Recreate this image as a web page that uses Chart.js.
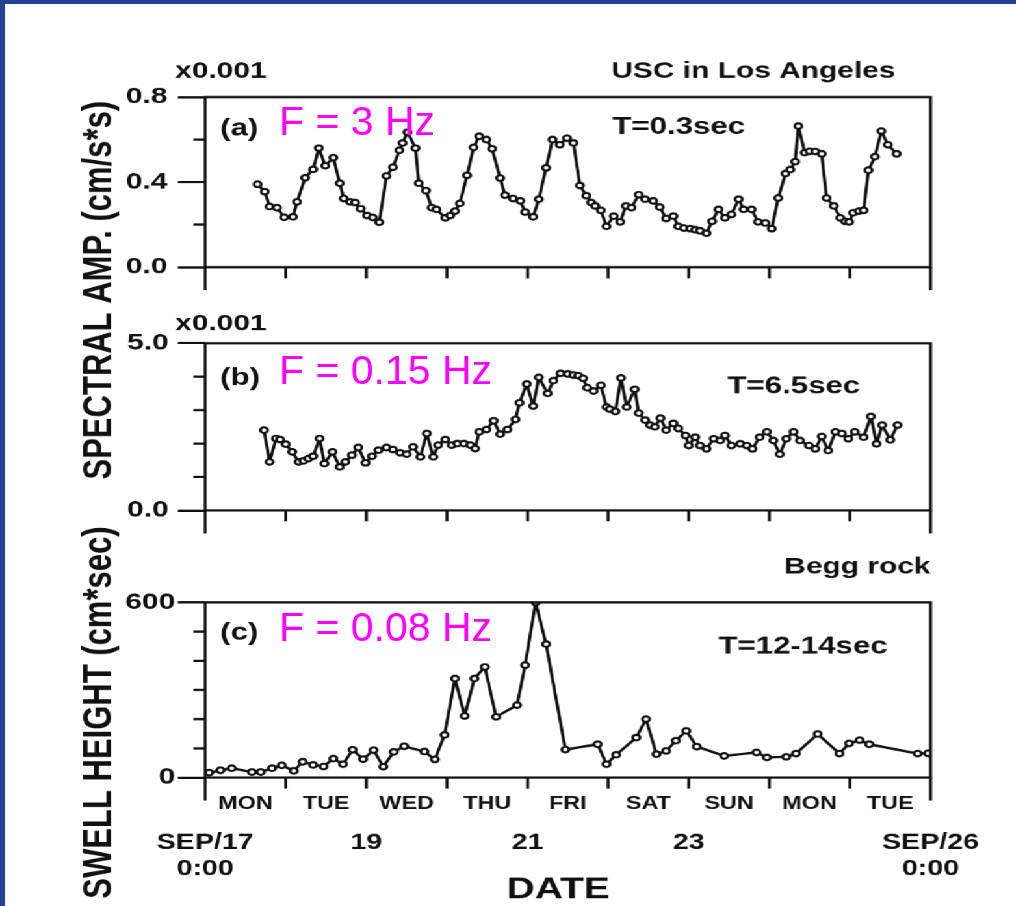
<!DOCTYPE html>
<html>
<head>
<meta charset="utf-8">
<title>Spectral amplitude and swell height, Sep 17-26</title>
<script src="https://cdn.jsdelivr.net/npm/chart.js"></script>
<style>
  body { margin: 0; background: #fff; width: 1016px; height: 906px; overflow: hidden; position: relative; }
  .edge-top { position: absolute; left: 0; top: 0; width: 1016px; height: 4px; background: #21409a; }
  .edge-left { position: absolute; left: 0; top: 0; width: 5px; height: 906px; background: #21409a; }
  /* the figure is laid out narrow and stretched sideways, which gives the wide lettering */
  #figure { position: absolute; left: 0; top: 0; width: 782px; height: 906px; transform: scaleX(1.3); transform-origin: 0 0; }
  .panel { position: absolute; left: 0; top: 0; width: 782px; height: 906px; }
  .freq { position: absolute; left: 279px; font: 41px "Liberation Sans", Arial, sans-serif; color: #ff00ff; line-height: 1; white-space: nowrap; }
</style>
</head>
<body>
  <div class="edge-top"></div>
  <div class="edge-left"></div>

  <div id="figure">
    <div class="panel"><canvas id="chartA"></canvas></div>
    <div class="panel"><canvas id="chartB"></canvas></div>
    <div class="panel"><canvas id="chartC"></canvas></div>
  </div>

  <div class="freq" style="top:101px">F = 3 Hz</div>
  <div class="freq" style="top:350px">F = 0.15 Hz</div>
  <div class="freq" style="top:607px">F = 0.08 Hz</div>

<script>
  // x values are days after SEP/17 0:00

  // weekday names, centred on each day
  var dayNames = ['MON', 'TUE', 'WED', 'THU', 'FRI', 'SAT', 'SUN', 'MON', 'TUE'];
  var dayCenters = [0.5, 1.5, 2.5, 3.5, 4.5, 5.5, 6.5, 7.5, 8.5];
  var dateTicks = [0, 2, 4, 6, 9];
  var dateLabels = [['SEP/17', '0:00'], '19', '21', '23', ['SEP/26', '0:00']];

  // (a) T=0.3sec, x0.001 cm/s*s
  var ampShortT = [0.65, 0.74, 0.80, 0.89, 0.98, 1.09, 1.14, 1.24, 1.34, 1.41, 1.49, 1.59, 1.67, 1.72, 1.80,
    1.86, 1.93, 2.01, 2.08, 2.16, 2.25, 2.33, 2.41, 2.45, 2.51, 2.61, 2.65, 2.74, 2.81, 2.87,
    2.98, 3.04, 3.10, 3.16, 3.25, 3.33, 3.40, 3.49, 3.56, 3.66, 3.72, 3.82, 3.91, 3.97, 4.07,
    4.14, 4.23, 4.31, 4.40, 4.49, 4.57, 4.65, 4.73, 4.79, 4.84, 4.91, 4.98, 5.07, 5.15, 5.22,
    5.29, 5.38, 5.46, 5.56, 5.64, 5.72, 5.81, 5.87, 5.94, 6.02, 6.08, 6.14, 6.22, 6.29, 6.37,
    6.45, 6.53, 6.62, 6.68, 6.78, 6.86, 6.95, 7.03, 7.11, 7.20, 7.26, 7.32, 7.36, 7.44, 7.50,
    7.57, 7.65, 7.71, 7.80, 7.88, 7.94, 7.99, 8.04, 8.11, 8.17, 8.23, 8.31, 8.39, 8.47, 8.58];
  var ampShort = [0.39, 0.355, 0.285, 0.28, 0.235, 0.237, 0.307, 0.42, 0.46, 0.56, 0.477, 0.515, 0.395, 0.323, 0.307,
    0.304, 0.275, 0.243, 0.234, 0.211, 0.429, 0.47, 0.55, 0.584, 0.635, 0.56, 0.395, 0.36, 0.28, 0.272,
    0.232, 0.243, 0.264, 0.30, 0.432, 0.563, 0.616, 0.60, 0.557, 0.419, 0.339, 0.323, 0.312, 0.259, 0.237,
    0.32, 0.467, 0.60, 0.576, 0.607, 0.584, 0.384, 0.336, 0.304, 0.288, 0.267, 0.192, 0.24, 0.213, 0.288,
    0.28, 0.341, 0.32, 0.312, 0.283, 0.229, 0.24, 0.192, 0.184, 0.181, 0.176, 0.171, 0.16, 0.216, 0.272,
    0.232, 0.248, 0.32, 0.272, 0.272, 0.213, 0.208, 0.181, 0.325, 0.44, 0.459, 0.496, 0.664, 0.539, 0.545,
    0.544, 0.533, 0.325, 0.288, 0.232, 0.216, 0.213, 0.256, 0.264, 0.267, 0.456, 0.52, 0.64, 0.576, 0.533];

  // (b) T=6.5sec, x0.001 cm/s*s
  var ampMidT = [0.73, 0.80, 0.88, 0.93, 1.00, 1.08, 1.16, 1.22, 1.28, 1.34, 1.42, 1.48, 1.58, 1.67, 1.74,
    1.82, 1.90, 1.99, 2.07, 2.15, 2.25, 2.33, 2.42, 2.50, 2.58, 2.67, 2.75, 2.83, 2.89, 2.98,
    3.06, 3.13, 3.21, 3.29, 3.35, 3.40, 3.49, 3.58, 3.66, 3.75, 3.85, 3.90, 3.99, 4.07, 4.14,
    4.25, 4.32, 4.41, 4.50, 4.57, 4.63, 4.69, 4.74, 4.82, 4.91, 4.98, 5.02, 5.09, 5.16, 5.23,
    5.33, 5.38, 5.46, 5.52, 5.58, 5.65, 5.72, 5.81, 5.87, 5.96, 6.00, 6.08, 6.14, 6.22, 6.31,
    6.39, 6.45, 6.53, 6.64, 6.72, 6.79, 6.88, 6.97, 7.05, 7.13, 7.21, 7.30, 7.38, 7.49, 7.57,
    7.65, 7.73, 7.82, 7.90, 7.98, 8.06, 8.17, 8.26, 8.33, 8.40, 8.50, 8.59];
  var ampMid = [2.40, 1.45, 2.15, 2.12, 1.98, 1.75, 1.45, 1.48, 1.55, 1.62, 2.15, 1.40, 1.75, 1.30, 1.45,
    1.65, 1.88, 1.42, 1.62, 1.80, 1.88, 1.82, 1.72, 1.68, 1.90, 1.60, 2.30, 1.60, 1.95, 2.12,
    1.95, 2.00, 2.00, 1.95, 1.85, 2.35, 2.42, 2.68, 2.28, 2.42, 2.72, 3.22, 3.78, 3.12, 3.98,
    3.50, 3.88, 4.10, 4.08, 4.05, 4.03, 3.95, 3.67, 3.57, 3.74, 3.09, 3.03, 2.96, 3.96, 3.09,
    3.62, 2.91, 2.70, 2.55, 2.50, 2.76, 2.40, 2.60, 2.45, 2.24, 1.94, 2.19, 1.94, 1.84, 2.14,
    2.09, 2.24, 1.94, 1.99, 1.94, 1.84, 2.19, 2.35, 2.09, 1.68, 2.14, 2.35, 2.09, 1.94, 1.84,
    2.21, 1.79, 2.35, 2.30, 2.14, 2.35, 2.19, 2.81, 1.99, 2.55, 2.11, 2.55];

  // (c) Begg rock, T=12-14sec, cm*sec
  var swellT = [0.05, 0.19, 0.33, 0.58, 0.69, 0.83, 0.95, 1.10, 1.21, 1.34, 1.47, 1.59, 1.71, 1.83, 1.96,
    2.09, 2.21, 2.34, 2.47, 2.72, 2.85, 2.97, 3.10, 3.22, 3.34, 3.47, 3.61, 3.87, 3.97, 4.10,
    4.23, 4.47, 4.87, 4.98, 5.10, 5.35, 5.47, 5.60, 5.72, 5.84, 5.97, 6.10, 6.44, 6.84, 6.97,
    7.21, 7.33, 7.60, 7.87, 7.99, 8.12, 8.24, 8.84, 8.97];
  var swell = [17, 25, 32, 19, 19, 32, 42, 23, 54, 43, 38, 65, 46, 95, 63,
    94, 37, 88, 107, 89, 62, 146, 339, 211, 339, 379, 208, 248, 385, 600,
    457, 96, 114, 46, 78, 137, 200, 80, 91, 126, 160, 106, 74, 86, 69,
    71, 82, 149, 82, 117, 128, 114, 82, 83];

  // unlabelled left ticks
  var ampShortMinor = [0.2, 0.6];
  var ampMidMinor = [1, 2, 3, 4];
  var swellMinor = [100, 200, 300, 400, 500];

  var SX = 1.3;          // sideways stretch of #figure
  var W = 782, H = 906;  // panel size before the stretch
  var INK = '#111';
  var FAMILY = '"Liberation Sans", Arial, sans-serif';
  function lx(px) { return px / SX; }

  var plotLeft = lx(205), plotRight = lx(930);

  // frame, extra ticks and lettering around each panel
  function framePlugin(minor, notes) {
    return {
      id: 'frame',
      afterDraw: function (chart) {
        var ctx = chart.ctx, a = chart.chartArea, xs = chart.scales.x, ys = chart.scales.y;
        ctx.save();
        ctx.strokeStyle = INK;
        ctx.lineWidth = 2.3;
        ctx.strokeRect(a.left, a.top, a.right - a.left, a.bottom - a.top);
        ctx.beginPath();
        ctx.moveTo(a.left, a.bottom); ctx.lineTo(a.left, a.bottom + 23);
        ctx.moveTo(a.right, a.bottom); ctx.lineTo(a.right, a.bottom + 23);
        for (var d = 1; d < 9; d++) {
          var x = xs.getPixelForValue(d);
          ctx.moveTo(x, a.bottom); ctx.lineTo(x, a.bottom + 11);
        }
        minor.forEach(function (v) {
          var y = ys.getPixelForValue(v);
          ctx.moveTo(a.left - 9, y); ctx.lineTo(a.left, y);
        });
        ctx.stroke();

        ctx.fillStyle = INK;
        ctx.textBaseline = 'alphabetic';
        notes.forEach(function (n) {
          ctx.font = 'bold ' + n.size + 'px ' + FAMILY;
          if (n.rotate) {
            ctx.save();
            ctx.translate(n.x, n.y);
            ctx.rotate(-Math.PI / 2);
            ctx.textAlign = 'center';
            ctx.fillText(n.text, 0, 0);
            ctx.restore();
          } else {
            ctx.textAlign = n.align || 'left';
            ctx.fillText(n.text, n.x, n.y);
          }
        });
        ctx.restore();
      }
    };
  }

  function yAxis(max, step, fmt, pad) {
    return {
      type: 'linear', min: 0, max: max,
      afterFit: function (s) { s.width = plotLeft; },
      ticks: { stepSize: step, callback: fmt, padding: pad, color: INK,
        font: { family: FAMILY, size: 23, weight: 'bold' } },
      grid: { drawOnChartArea: false, drawTicks: true, tickLength: 21, color: INK, lineWidth: 2.3 },
      border: { display: false }
    };
  }

  function makePanel(id, t, v, top, bottom, y, xScales, minor, notes) {
    var pts = t.map(function (d, i) { return { x: d, y: v[i] }; });
    var scales = Object.assign({}, xScales, { y: y });
    return new Chart(document.getElementById(id), {
      type: 'line',
      data: {
        datasets: [{
          data: pts,
          borderColor: INK,
          borderWidth: 2.4,
          borderJoinStyle: 'round',
          tension: 0,
          pointRadius: 2.8,
          pointBorderWidth: 2.1,
          pointBackgroundColor: '#fff',
          pointBorderColor: INK
        }]
      },
      options: {
        responsive: true,
        maintainAspectRatio: false,
        devicePixelRatio: SX,
        animation: false,
        events: [],
        layout: { padding: { left: 0, right: W - plotRight, top: top, bottom: bottom } },
        plugins: { legend: { display: false }, tooltip: { enabled: false } },
        scales: scales
      },
      plugins: [framePlugin(minor, notes)]
    });
  }

  var hiddenX = { x: { type: 'linear', min: 0, max: 9, display: false } };

  var Chart1 = makePanel('chartA', ampShortT, ampShort, 97, H - 267,
    yAxis(0.8, 0.4, function (v) { return v.toFixed(1); }, 8),
    hiddenX, ampShortMinor, [
      { text: 'x0.001', x: lx(175), y: 78, size: 23 },
      { text: 'USC in Los Angeles', x: lx(895), y: 78, size: 23, align: 'right' },
      { text: '(a)', x: lx(220), y: 135, size: 24 },
      { text: 'T=0.3sec', x: lx(612), y: 134, size: 24 },
      { text: 'SPECTRAL AMP. (cm/s*s)', x: lx(111), y: 290, size: 31, rotate: true }
    ]);

  var Chart2 = makePanel('chartB', ampMidT, ampMid, 343, H - 510,
    yAxis(5, 5, function (v) { return v.toFixed(1); }, 7),
    hiddenX, ampMidMinor, [
      { text: 'x0.001', x: lx(175), y: 330, size: 23 },
      { text: '(b)', x: lx(220), y: 385, size: 24 },
      { text: 'T=6.5sec', x: lx(727), y: 393, size: 24 }
    ]);

  var dateX = {
    x: {
      type: 'linear', min: 0, max: 9, position: 'bottom',
      afterFit: function (s) { s.height = 40; },
      afterBuildTicks: function (s) { s.ticks = dayCenters.map(function (d) { return { value: d }; }); },
      ticks: { autoSkip: false, maxRotation: 0, minRotation: 0, padding: 16, color: INK,
        callback: function (val, i) { return dayNames[i]; },
        font: { family: FAMILY, size: 18, weight: 'bold' } },
      grid: { display: false, drawTicks: false },
      border: { display: false }
    },
    x2: {
      type: 'linear', min: 0, max: 9, position: 'bottom',
      afterFit: function (s) { s.height = 89; },
      afterBuildTicks: function (s) { s.ticks = dateTicks.map(function (d) { return { value: d }; }); },
      ticks: { autoSkip: false, maxRotation: 0, minRotation: 0, padding: 12, color: INK,
        callback: function (val, i) { return dateLabels[i]; },
        font: { family: FAMILY, size: 22, weight: 'bold', lineHeight: 1.2 } },
      grid: { display: false, drawTicks: false },
      border: { display: false }
    }
  };

  var Chart3 = makePanel('chartC', swellT, swell, 602, 0,
    yAxis(600, 600, function (v) { return String(v); }, 2),
    dateX, swellMinor, [
      { text: 'Begg rock', x: lx(930), y: 573, size: 23, align: 'right' },
      { text: '(c)', x: lx(220), y: 639, size: 24 },
      { text: 'T=12-14sec', x: lx(718), y: 653, size: 24 },
      { text: 'SWELL HEIGHT (cm*sec)', x: lx(111), y: 712, size: 31, rotate: true },
      { text: 'DATE', x: lx(558), y: 898, size: 30, align: 'center' }
    ]);
</script>
</body>
</html>
